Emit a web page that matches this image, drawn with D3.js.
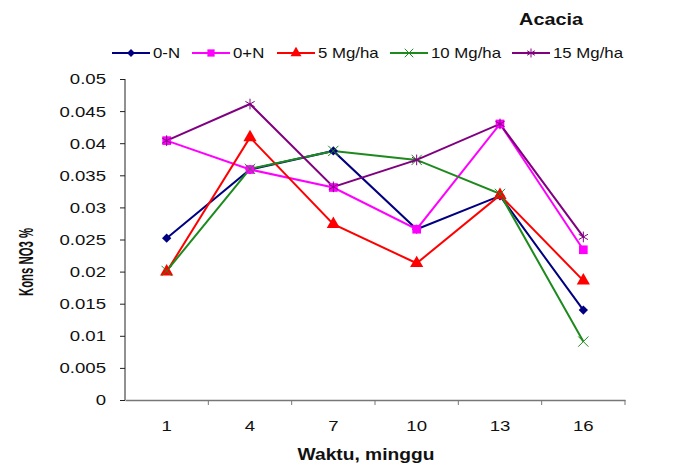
<!DOCTYPE html>
<html>
<head>
<meta charset="utf-8">
<script src="https://cdn.jsdelivr.net/npm/d3@7"></script>
<style>
  body { margin: 0; background: #fff; }
  text { font-family: "Liberation Sans", Arial, sans-serif; }
</style>
</head>
<body>
<script>
var width = 678;
var height = 465;

// data
var weeks = ["1", "4", "7", "10", "13", "16"];
var seriesNames = ["0-N", "0+N", "5 Mg/ha", "10 Mg/ha", "15 Mg/ha"];
var valsON = [0.0252, 0.0359, 0.0388, 0.0266, 0.0318, 0.0140];
var valsOPN = [0.0404, 0.0359, 0.0331, 0.0266, 0.0430, 0.0234];
var vals5 = [0.0200, 0.0409, 0.0274, 0.0213, 0.0319, 0.0186];
var vals10 = [0.0201, 0.0360, 0.0388, 0.0374, 0.0321, 0.0091];
var vals15 = [0.0404, 0.0461, 0.0332, 0.0374, 0.0430, 0.0254];
var yTicks = [0, 0.005, 0.01, 0.015, 0.02, 0.025, 0.03, 0.035, 0.04, 0.045, 0.05];

var colors = ["#000080", "#ff00ff", "#ff0000", "#1e8a1e", "#800080"];
var symbols = [d3.symbolDiamond2, d3.symbolSquare, d3.symbolTriangle, d3.symbolTimes, d3.symbolAsterisk];
var symSize = [55, 75, 75, 70, 80];

var series = seriesNames.map(function (n, i) {
    return { name: n, values: [valsON, valsOPN, vals5, vals10, vals15][i], i: i };
});

// the source picture is a bit stretched sideways, so text is too
var sx = 1.2;

// plot area (note: "top" is reserved on window)
var pLeft = 125, pRight = 625, pTop = 79, pBottom = 400;

var svg = d3.select("body").append("svg")
    .attr("width", width)
    .attr("height", height);

var x = d3.scaleBand().domain(weeks).range([pLeft, pRight]);
var y = d3.scaleLinear().domain([0, 0.05]).range([pBottom, pTop]);

// y axis
var yAxis = svg.append("g")
    .attr("transform", "translate(" + pLeft + ",0)")
    .call(d3.axisLeft(y).tickValues(yTicks).tickSize(5).tickFormat(function (d) { return String(+d.toFixed(3)); }));
yAxis.selectAll("text")
    .attr("font-size", 15.5).attr("fill", "#111")
    .attr("x", 0)
    .attr("transform", "translate(-19,0) scale(" + sx + ",1)");
yAxis.selectAll("line, path").attr("stroke", "#222");
yAxis.select(".domain").attr("d", "M0," + pTop + "V" + pBottom);

// x axis
var xAxis = svg.append("g")
    .attr("transform", "translate(0," + pBottom + ")")
    .call(d3.axisBottom(x).tickSize(0).tickPadding(0));
xAxis.selectAll("text")
    .attr("font-size", 15.5).attr("fill", "#111")
    .attr("y", 0).attr("dy", 0)
    .attr("transform", "translate(0,31) scale(" + sx + ",1)");
xAxis.select(".domain").attr("stroke", "#777").attr("stroke-width", 1.5);

// tick marks between categories
xAxis.selectAll(".sep").data(weeks)
    .enter().append("line")
    .attr("x1", function (d) { return x(d) + x.step(); })
    .attr("x2", function (d) { return x(d) + x.step(); })
    .attr("y1", 0).attr("y2", 5)
    .attr("stroke", "#777");

// lines
var line = d3.line()
    .x(function (d, i) { return x(weeks[i]) + x.bandwidth() / 2; })
    .y(function (d) { return y(d); });

svg.selectAll(".series").data(series)
    .enter().append("path")
    .classed("series", true)
    .attr("d", function (d) { return line(d.values); })
    .attr("fill", "none")
    .attr("stroke", function (d) { return colors[d.i]; })
    .attr("stroke-width", 2);

// markers
series.forEach(function (s) {
    svg.selectAll(".m" + s.i).data(s.values)
        .enter().append("path")
        .attr("class", "m" + s.i)
        .attr("transform", function (d, i) {
            return "translate(" + (x(weeks[i]) + x.bandwidth() / 2) + "," + y(d) + ")";
        })
        .attr("d", d3.symbol().type(symbols[s.i]).size(symSize[s.i]))
        .attr("fill", s.i >= 3 ? "none" : colors[s.i])
        .attr("stroke", colors[s.i])
        .attr("stroke-width", s.i >= 3 ? 1 : 0);
});

// legend
var legendX = [112, 192, 277, 390, 512];
var legend = svg.selectAll(".legend").data(series)
    .enter().append("g")
    .attr("transform", function (d) { return "translate(" + legendX[d.i] + ",53)"; });
legend.append("line")
    .attr("x1", 0).attr("x2", 38)
    .attr("stroke", function (d) { return colors[d.i]; })
    .attr("stroke-width", 2);
legend.append("path")
    .attr("transform", "translate(19,0)")
    .attr("d", function (d) { return d3.symbol().type(symbols[d.i]).size(symSize[d.i] * 0.7)(); })
    .attr("fill", function (d) { return d.i >= 3 ? "none" : colors[d.i]; })
    .attr("stroke", function (d) { return colors[d.i]; })
    .attr("stroke-width", function (d) { return d.i >= 3 ? 1 : 0; });
legend.append("text")
    .attr("transform", "translate(41,5) scale(" + sx + ",1)")
    .attr("font-size", 14)
    .attr("fill", "#111")
    .text(function (d) { return d.name; });

// title
svg.append("text")
    .attr("transform", "translate(551,25) scale(" + sx + ",1)")
    .attr("text-anchor", "middle")
    .attr("font-size", 16.5)
    .attr("font-weight", "bold")
    .attr("fill", "#111")
    .text("Acacia");

// axis titles
svg.append("text")
    .attr("transform", "translate(366,460) scale(" + sx + ",1)")
    .attr("text-anchor", "middle")
    .attr("font-size", 16)
    .attr("font-weight", "bold")
    .attr("fill", "#111")
    .text("Waktu, minggu");

svg.append("text")
    .attr("transform", "translate(33,262) scale(1.35,1) rotate(-90)")
    .attr("text-anchor", "middle")
    .attr("font-size", 15)
    .attr("font-weight", "bold")
    .attr("fill", "#111")
    .attr("textLength", 68)
    .attr("lengthAdjust", "spacingAndGlyphs")
    .text("Kons NO3 %");
</script>
</body>
</html>
